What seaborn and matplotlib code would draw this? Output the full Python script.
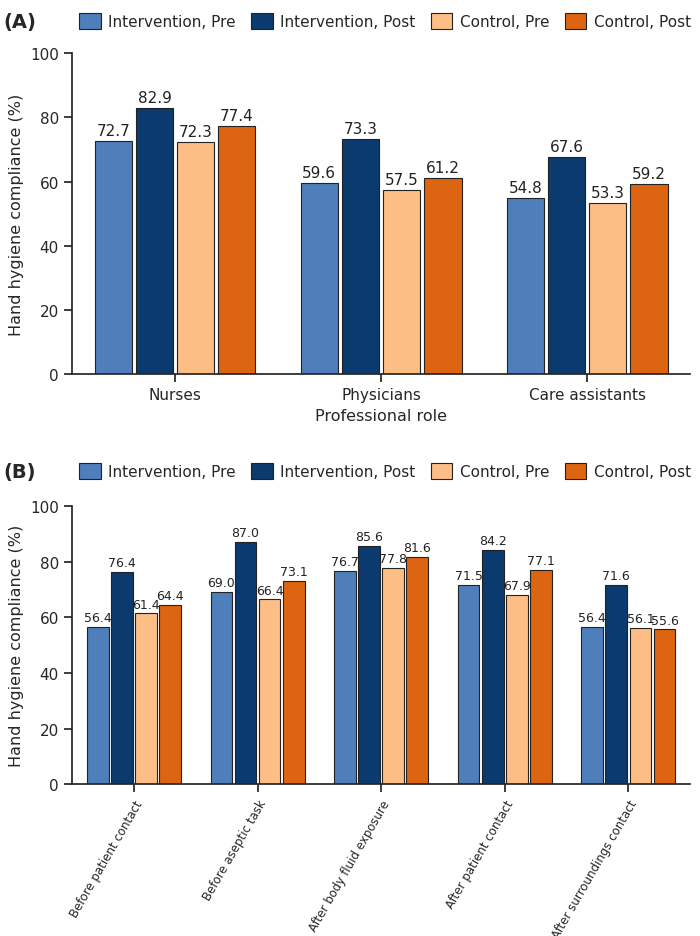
import matplotlib
matplotlib.use("Agg")
import matplotlib.pyplot as plt
import seaborn as sns
import pandas as pd

sns.set_theme(style="ticks")
plt.rcParams['font.family'] = ['DejaVu Sans']

series = ["Intervention, Pre", "Intervention, Post", "Control, Pre", "Control, Post"]
colors = ["#4F7FBA", "#0A3A6E", "#FDBE86", "#DD6410"]

roles = ["Nurses", "Physicians", "Care assistants"]
role_vals = [[72.7, 59.6, 54.8], [82.9, 73.3, 67.6], [72.3, 57.5, 53.3], [77.4, 61.2, 59.2]]

moments = ["Before patient contact", "Before aseptic task", "After body fluid exposure",
           "After patient contact", "After surroundings contact"]
moment_vals = [[56.4, 69.0, 76.7, 71.5, 56.4], [76.4, 87.0, 85.6, 84.2, 71.6],
               [61.4, 66.4, 77.8, 67.9, 56.1], [64.4, 73.1, 81.6, 77.1, 55.6]]

def frame(cats, vals, catname):
    rows = []
    for s, v in zip(series, vals):
        for c, x in zip(cats, v):
            rows.append({catname: c, "Group": s, "val": x})
    return pd.DataFrame(rows)

fig = plt.figure(figsize=(7, 9.37), dpi=100)
axA = fig.add_axes([0.103, 0.600, 0.883, 0.342])
axB = fig.add_axes([0.103, 0.162, 0.883, 0.297])

def panel(ax, df, catname, xlabel, fs, rot, label, legy):
    sns.barplot(data=df, x=catname, y="val", hue="Group", hue_order=series,
                palette=colors, saturation=1, ax=ax, width=0.8 if not rot else 0.78,
                gap=0.1, edgecolor="#222222", linewidth=0.8, legend=False)
    for cont in ax.containers:
        ax.bar_label(cont, fmt="%.1f", padding=2, fontsize=fs, color="#222222")
    ax.set_ylim(0, 100)
    ax.set_yticks(range(0, 101, 20))
    ax.set_ylabel("Hand hygiene compliance (%)", fontsize=11.5)
    ax.set_xlabel(xlabel, fontsize=11.5)
    ax.tick_params(labelsize=11)
    if rot:
        ax.set_xticks(range(len(df[catname].unique())))
        ax.set_xticklabels(ax.get_xticklabels(), rotation=rot, ha="right",
                           rotation_mode="anchor", fontsize=8.5)
    sns.despine(ax=ax)
    handles = [plt.Rectangle((0, 0), 1, 1, fc=c, ec="#222222", lw=0.8) for c in colors]
    fig.legend(handles, series, loc="center", bbox_to_anchor=(0.55, legy), ncol=4,
               frameon=False, fontsize=11, handlelength=1.4, handleheight=1.2,
               columnspacing=1.0, handletextpad=0.5)
    fig.text(0.005, legy, label, fontsize=14, fontweight="bold", va="center")

panel(axA, frame(roles, role_vals, "Role"), "Role", "Professional role", 11, 0, "(A)", 0.976)
panel(axB, frame(moments, moment_vals, "Moment"), "Moment", "Hand hygiene moment", 9, 60, "(B)", 0.496)

fig.savefig("out.png", dpi=100)
